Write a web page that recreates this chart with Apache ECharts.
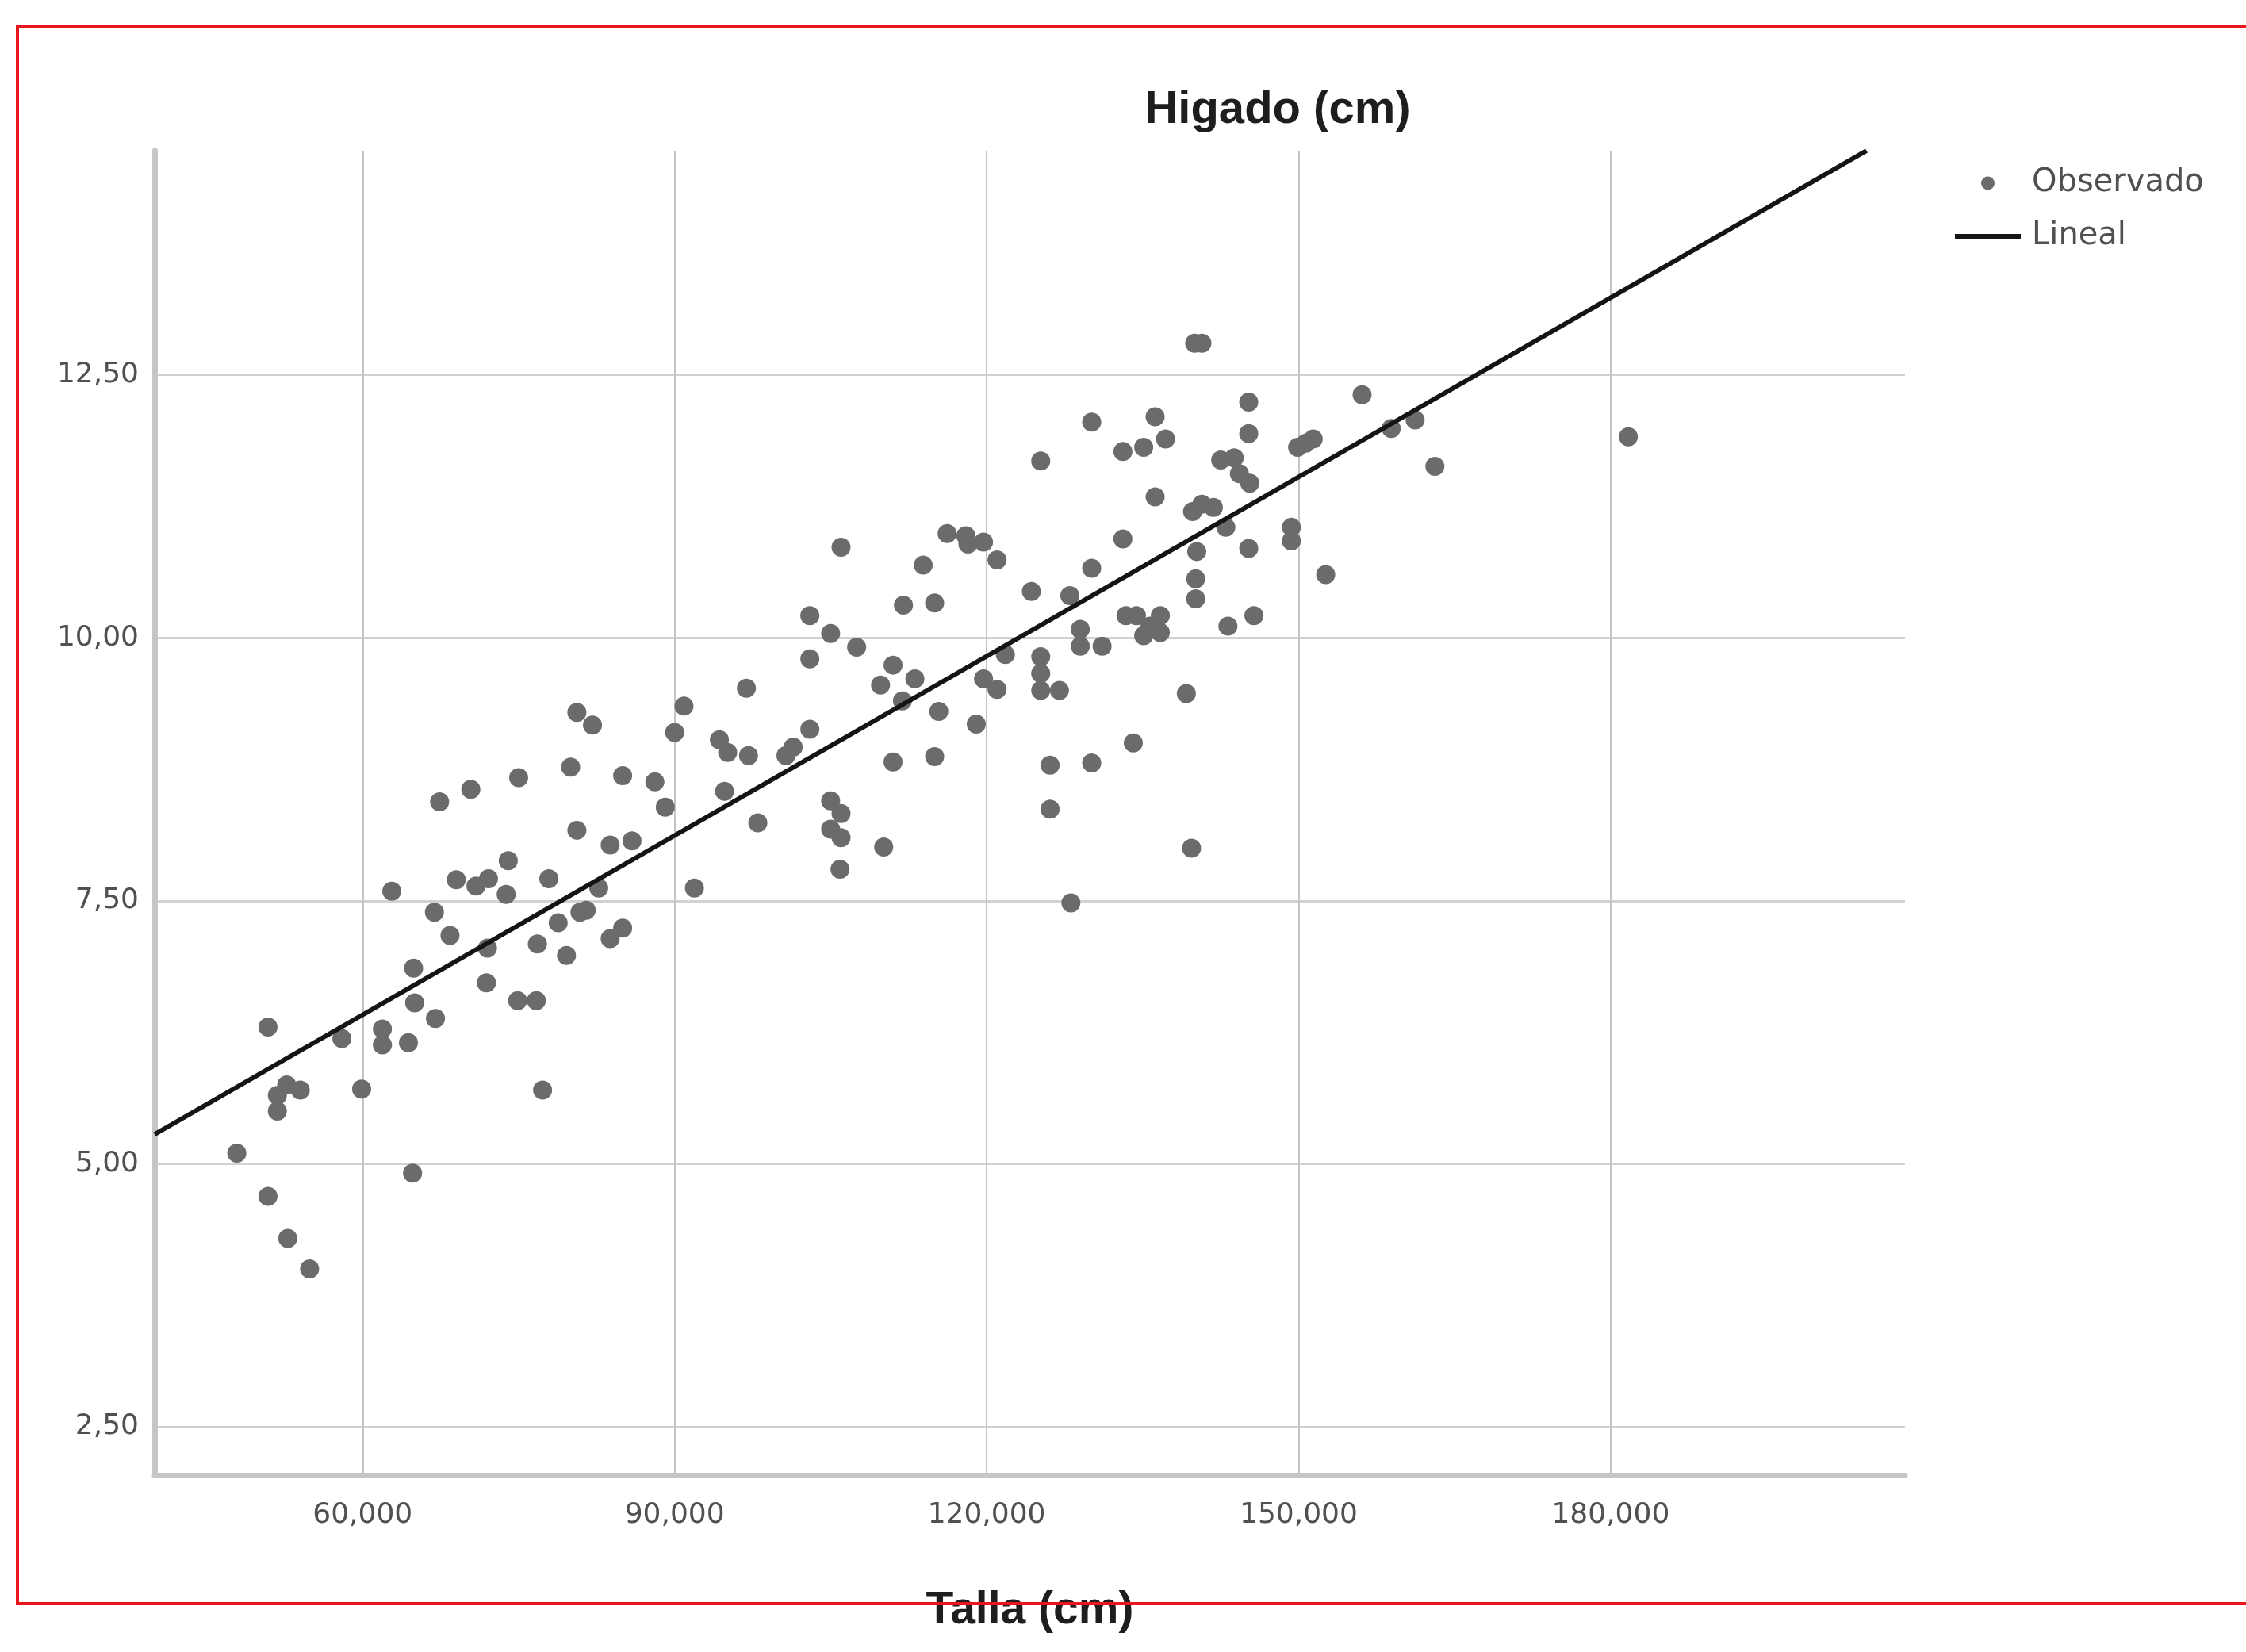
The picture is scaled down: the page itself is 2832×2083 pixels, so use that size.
<!DOCTYPE html>
<html>
<head>
<meta charset="utf-8">
<script src="https://cdn.jsdelivr.net/npm/echarts@6/dist/echarts.min.js"></script>
<style>
  html, body { margin: 0; padding: 0; background: #fff; }
  #chart { width: 2832px; height: 2083px; }
</style>
</head>
<body>
<div id="chart"></div>
<script>
// Talla (cm) of each observation
const talla = [
  47.9, 50.9, 50.9, 52.8, 54.9, 51.8, 52.7, 54.0, 51.8, 58.0, 59.9, 61.9, 61.9, 64.4, 64.8, 65.0, 67.0, 74.9, 76.7, 77.3,
  80.6, 82.1, 90.9, 90.0, 67.4, 70.4, 75.0, 80.0, 85.0, 88.1, 89.1, 80.6, 83.8, 85.9, 62.8, 74.0, 69.0, 70.9, 72.1, 73.8,
  77.9, 66.9, 68.4, 78.8, 80.9, 81.5, 76.8, 79.6, 83.8, 85.0, 64.9, 71.9, 82.7, 72.0,
  106.0, 113.9, 116.2, 118.0, 118.2, 119.7, 121.0, 112.0, 115.0, 103.0, 105.0, 107.5, 103.0, 111.0, 109.8, 113.1, 121.0, 119.7, 115.4, 119.0,
  111.9, 96.9, 94.3, 95.1, 97.1, 103.0, 101.4, 100.7, 94.8, 98.0, 111.0, 115.0, 105.0, 106.0, 105.0, 106.0, 110.1, 105.9, 91.9, 121.8,
  130.1, 125.2, 136.2, 137.2, 135.1, 133.1, 145.2, 145.2, 149.9, 151.4, 150.7, 142.5, 143.8, 144.3, 145.3, 136.2, 140.7, 141.8, 133.1, 143.0,
  140.2, 145.2, 149.3, 149.3, 152.6, 130.1, 124.3, 128.0, 140.1, 140.1, 145.7, 143.2, 129.0, 129.0, 131.1, 133.4, 134.4, 135.7, 136.7, 136.7,
  135.1, 125.2, 125.2, 125.2, 127.0, 139.2, 134.1, 126.1, 130.1, 126.1, 139.7, 128.1, 139.8,
  156.1, 158.9, 161.2, 163.1, 181.7, 140.0, 140.7
];
// Higado (cm), same order
const higado = [
  5.10, 6.30, 4.69, 4.29, 4.00, 5.65, 5.75, 5.70, 5.50, 6.19, 5.71, 6.28, 6.13, 6.15, 4.91, 6.53, 6.38, 6.55, 6.55, 5.70,
  9.29, 9.17, 9.35, 9.10, 8.44, 8.56, 8.67, 8.77, 8.69, 8.63, 8.39, 8.17, 8.03, 8.07, 7.59, 7.88, 7.70, 7.64, 7.71, 7.56,
  7.71, 7.39, 7.17, 7.29, 7.39, 7.41, 7.09, 6.98, 7.14, 7.24, 6.86, 6.72, 7.62, 7.05,
  10.86, 10.69, 10.99, 10.97, 10.89, 10.91, 10.74, 10.31, 10.33, 10.21, 10.04, 9.91, 9.80, 9.74, 9.55, 9.61, 9.51, 9.61, 9.30, 9.18,
  9.40, 9.52, 9.03, 8.91, 8.88, 9.13, 8.96, 8.88, 8.54, 8.24, 8.82, 8.87, 8.45, 8.33, 8.18, 8.10, 8.01, 7.80, 7.62, 9.84,
  12.05, 11.68, 12.10, 11.89, 11.81, 11.77, 12.24, 11.94, 11.81, 11.89, 11.85, 11.69, 11.71, 11.56, 11.47, 11.34, 11.27, 11.24, 10.94, 11.05,
  10.82, 10.85, 11.05, 10.92, 10.60, 10.66, 10.44, 10.40, 10.56, 10.37, 10.21, 10.11, 10.08, 9.92, 9.92, 10.21, 10.21, 10.11, 10.21, 10.05,
  10.02, 9.82, 9.66, 9.50, 9.50, 9.47, 9.00, 8.79, 8.81, 8.37, 8.00, 7.48, 11.20,
  12.31, 11.99, 12.07, 11.63, 11.91, 12.80, 12.80
];
// linear fit end points
const linealTalla = [40, 204.6];
const linealHigado = [5.28, 14.63];

const xTicks = [60, 90, 120, 150, 180];
const yTicks = [2.5, 5, 7.5, 10, 12.5];

const gridColor = '#d2d2d2';
const axisColor = '#c6c6c6';

const option = {
  backgroundColor: '#fff',
  animation: false,
  title: {
    text: 'Higado (cm)',
    left: 1611,
    top: 110,
    padding: 0,
    textAlign: 'center',
    textStyle: {
      fontFamily: 'Liberation Sans',
      fontWeight: 'bold',
      fontSize: 58,
      color: '#1e1e1e',
    },
  },
  legend: {
    orient: 'vertical',
    left: 2460,
    top: 206,
    itemWidth: 83,
    itemHeight: 17,
    itemGap: 27,
    symbolKeepAspect: true,
    textStyle: {
      fontFamily: 'DejaVu Sans',
      fontSize: 40,
      lineHeight: 40,
      color: '#505050',
      padding: [0, 0, 0, 9],
    },
    data: [
      { name: 'Observado', icon: 'circle', itemStyle: { color: '#6b6b6b' } },
      // thick bar for the fit line
      { name: 'Lineal', icon: 'path://M0,0 L83,0 L83,6 L0,6 Z', itemStyle: { color: '#141414' } },
    ],
  },
  grid: {
    left: 195,
    top: 190,
    width: 2207,
    height: 1670,
    containLabel: false,
    outerBoundsMode: 'none',
  },
  xAxis: {
    type: 'value',
    min: 40,
    max: 208.3,
    name: 'Talla (cm)',
    nameLocation: 'middle',
    nameGap: 143,
    nameTextStyle: {
      fontFamily: 'Liberation Sans',
      fontWeight: 'bold',
      fontSize: 57,
      color: '#1e1e1e',
    },
    axisLine: { onZero: false, lineStyle: { color: axisColor, width: 7 } },
    axisTick: { show: false, customValues: xTicks },
    axisLabel: {
      customValues: xTicks,
      margin: 33,
      fontFamily: 'DejaVu Sans',
      fontSize: 36,
      color: '#505050',
      formatter: (v) => v.toFixed(3).replace('.', ','),
    },
    splitLine: { show: true, lineStyle: { color: '#c4c4c4', width: 2 } },
  },
  yAxis: {
    type: 'value',
    min: 2.04,
    max: 14.63,
    axisLine: { show: true, onZero: false, lineStyle: { color: axisColor, width: 7 } },
    axisTick: { show: false, customValues: yTicks },
    axisLabel: {
      customValues: yTicks,
      margin: 20,
      fontFamily: 'DejaVu Sans',
      fontSize: 36,
      color: '#505050',
      formatter: (v) => v.toFixed(2).replace('.', ','),
    },
    splitLine: { show: true, lineStyle: { color: gridColor, width: 3 } },
  },
  series: [
    {
      name: 'Observado',
      type: 'scatter',
      symbol: 'circle',
      symbolSize: 24,
      symbolKeepAspect: true,
      itemStyle: { color: '#6b6b6b', opacity: 1 },
      data: talla.map((t, i) => [t, higado[i]]),
      z: 3,
    },
    {
      name: 'Lineal',
      type: 'line',
      symbol: 'none',
      lineStyle: { color: '#141414', width: 6 },
      itemStyle: { color: '#141414' },
      data: linealTalla.map((t, i) => [t, linealHigado[i]]),
      z: 4,
    },
  ],
  graphic: [
    {
      // red frame around the figure
      type: 'rect',
      shape: { x: 22, y: 33, width: 2900, height: 1989 },
      style: { fill: 'none', stroke: '#e8161c', lineWidth: 4 },
      z: 100,
    },
  ],
};

const myChart = echarts.init(document.getElementById('chart'));
myChart.setOption(option);
</script>
</body>
</html>
